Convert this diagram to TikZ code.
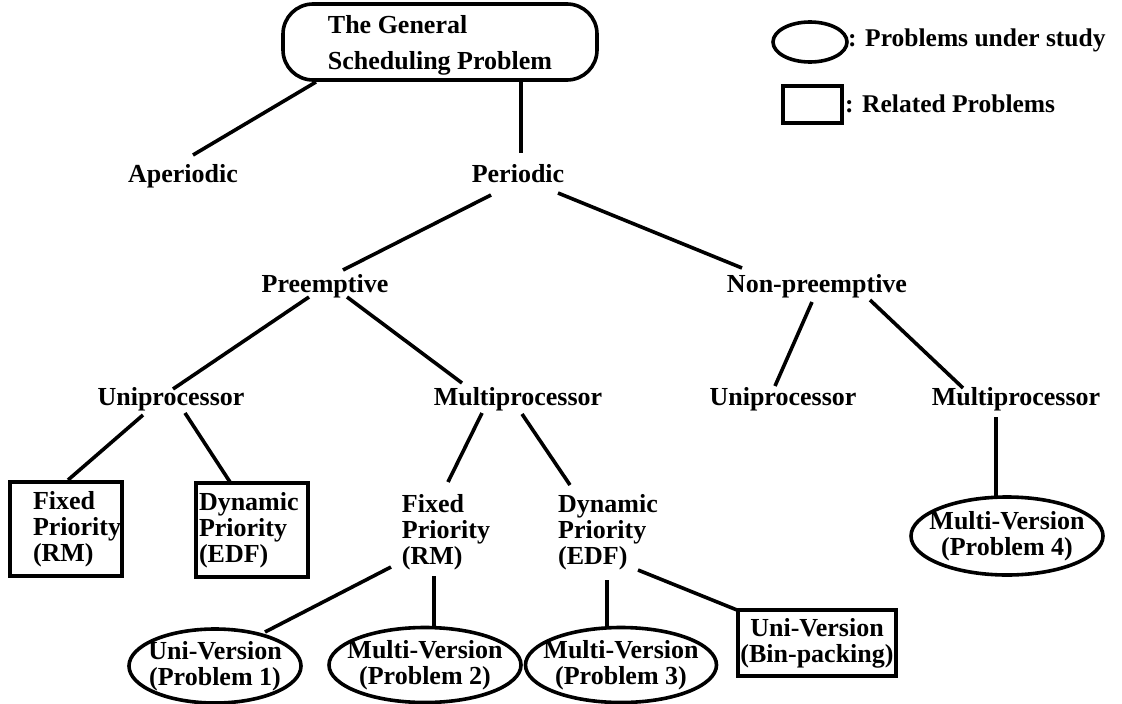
\documentclass[tikz,border=0pt]{standalone}
\usepackage{fontspec}
\setmainfont{Liberation Serif}
\usetikzlibrary{shapes.geometric}
\begin{document}
\begin{tikzpicture}[x=1pt,y=-1pt,
  every node/.style={font=\fontsize{26}{26}\selectfont\bfseries, inner sep=0pt},
  lbl/.style={anchor=base},
  multi/.style={align=left},
  conn/.style={line width=3.6pt},
  bx/.style={draw, rectangle, line width=4pt, align=left, inner xsep=0pt, inner ysep=0pt},
  ov/.style={draw, ellipse, line width=3.6pt, align=center, inner xsep=-20pt, inner ysep=-10pt},
  leg/.style={anchor=base west, font=\fontsize{25.5}{26}\selectfont\bfseries}
]
\useasboundingbox (0,0) rectangle (1122,704);

% root
\node[draw, rounded corners=30pt, line width=3.6pt, minimum width=314pt, minimum height=76pt,
      align=left, font=\fontsize{26}{36}\selectfont\bfseries] (root) at (440,42)
      {\rule{0pt}{24pt}The General\\Scheduling Problem};

% legend
\node[ov, minimum width=74pt, minimum height=40pt] (leg1) at (810,42) {};
\node[leg] (legt1) at (848,46) {: Problems under study};
\node[draw, rectangle, line width=4pt, minimum width=59pt, minimum height=37pt] (leg2) at (812.5,104.5) {};
\node[leg] (legt2) at (845,112) {: Related Problems};

% labels
\node[lbl] (ap)  at (183,182) {Aperiodic};
\node[lbl] (per) at (518,182) {Periodic};
\node[lbl] (pre) at (325,292) {Preemptive};
\node[lbl] (np)  at (817,292) {Non-preemptive};
\node[lbl] (u1)  at (171,405) {Uniprocessor};
\node[lbl] (m1)  at (518,405) {Multiprocessor};
\node[lbl] (u2)  at (783,405) {Uniprocessor};
\node[lbl] (m2)  at (1016,405) {Multiprocessor};

% boxes
\node[bx, text width=112pt, minimum height=94pt] (fx1) at (66,529)
  {\hspace*{23pt}Fixed\\\hspace*{23pt}Priority\\\hspace*{23pt}(RM)};
\node[bx, text width=112pt, minimum height=94pt] (dy1) at (252,530)
  {\hspace*{3pt}Dynamic\\\hspace*{3pt}Priority\\\hspace*{3pt}(EDF)};

\node[multi] (fx2) at (446,532) {Fixed\\Priority\\(RM)};
\node[multi] (dy2) at (608,532) {Dynamic\\Priority\\(EDF)};

\node[bx, align=center, minimum width=158pt, minimum height=66pt] (bin) at (817,643)
  {Uni-Version\\(Bin-packing)};

% ellipses
\node[ov, minimum width=172pt, minimum height=74pt] (e1) at (215,666) {Uni-Version\\(Problem 1)};
\node[ov, minimum width=192pt, minimum height=75pt] (e2) at (425,665) {Multi-Version\\(Problem 2)};
\node[ov, minimum width=191pt, minimum height=75pt] (e3) at (621,665) {Multi-Version\\(Problem 3)};
\node[ov, minimum width=192pt, minimum height=78pt] (e4) at (1007,536) {Multi-Version\\(Problem 4)};

% connectors
\draw[conn] ([shift={(-124,40)}]root.center) -- ([shift={(10,-27)}]ap.base);
\draw[conn] ([shift={(81,40)}]root.center) -- ([shift={(3,-29)}]per.base);
\draw[conn] ([shift={(-27,13)}]per.base) -- ([shift={(18,-22)}]pre.base);
\draw[conn] ([shift={(40,11)}]per.base) -- ([shift={(-75,-24)}]np.base);
\draw[conn] ([shift={(-16,5)}]pre.base) -- ([shift={(2,-16)}]u1.base);
\draw[conn] ([shift={(22,5)}]pre.base) -- ([shift={(-56,-22)}]m1.base);
\draw[conn] ([shift={(-28,10)}]u1.base) -- ([shift={(2,-49)}]fx1.center);
\draw[conn] ([shift={(14,8)}]u1.base) -- ([shift={(-22,-48)}]dy1.center);
\draw[conn] ([shift={(-36,8)}]m1.base) -- ([shift={(2,-50)}]fx2.center);
\draw[conn] ([shift={(4,9)}]m1.base) -- ([shift={(-38,-47)}]dy2.center);
\draw[conn] ([shift={(-55,35)}]fx2.center) -- ([shift={(50,-34)}]e1.center);
\draw[conn] ([shift={(-12,44)}]fx2.center) -- ([shift={(9,-37)}]e2.center);
\draw[conn] ([shift={(-1,48)}]dy2.center) -- ([shift={(-14,-37)}]e3.center);
\draw[conn] ([shift={(30,38)}]dy2.center) -- ([shift={(-80,-33)}]bin.center);
\draw[conn] ([shift={(-5,10)}]np.base) -- ([shift={(-8,-19)}]u2.base);
\draw[conn] ([shift={(53,8)}]np.base) -- ([shift={(-53,-17)}]m2.base);
\draw[conn] ([shift={(-20,12)}]m2.base) -- ([shift={(-11,-39)}]e4.center);
\end{tikzpicture}
\end{document}
